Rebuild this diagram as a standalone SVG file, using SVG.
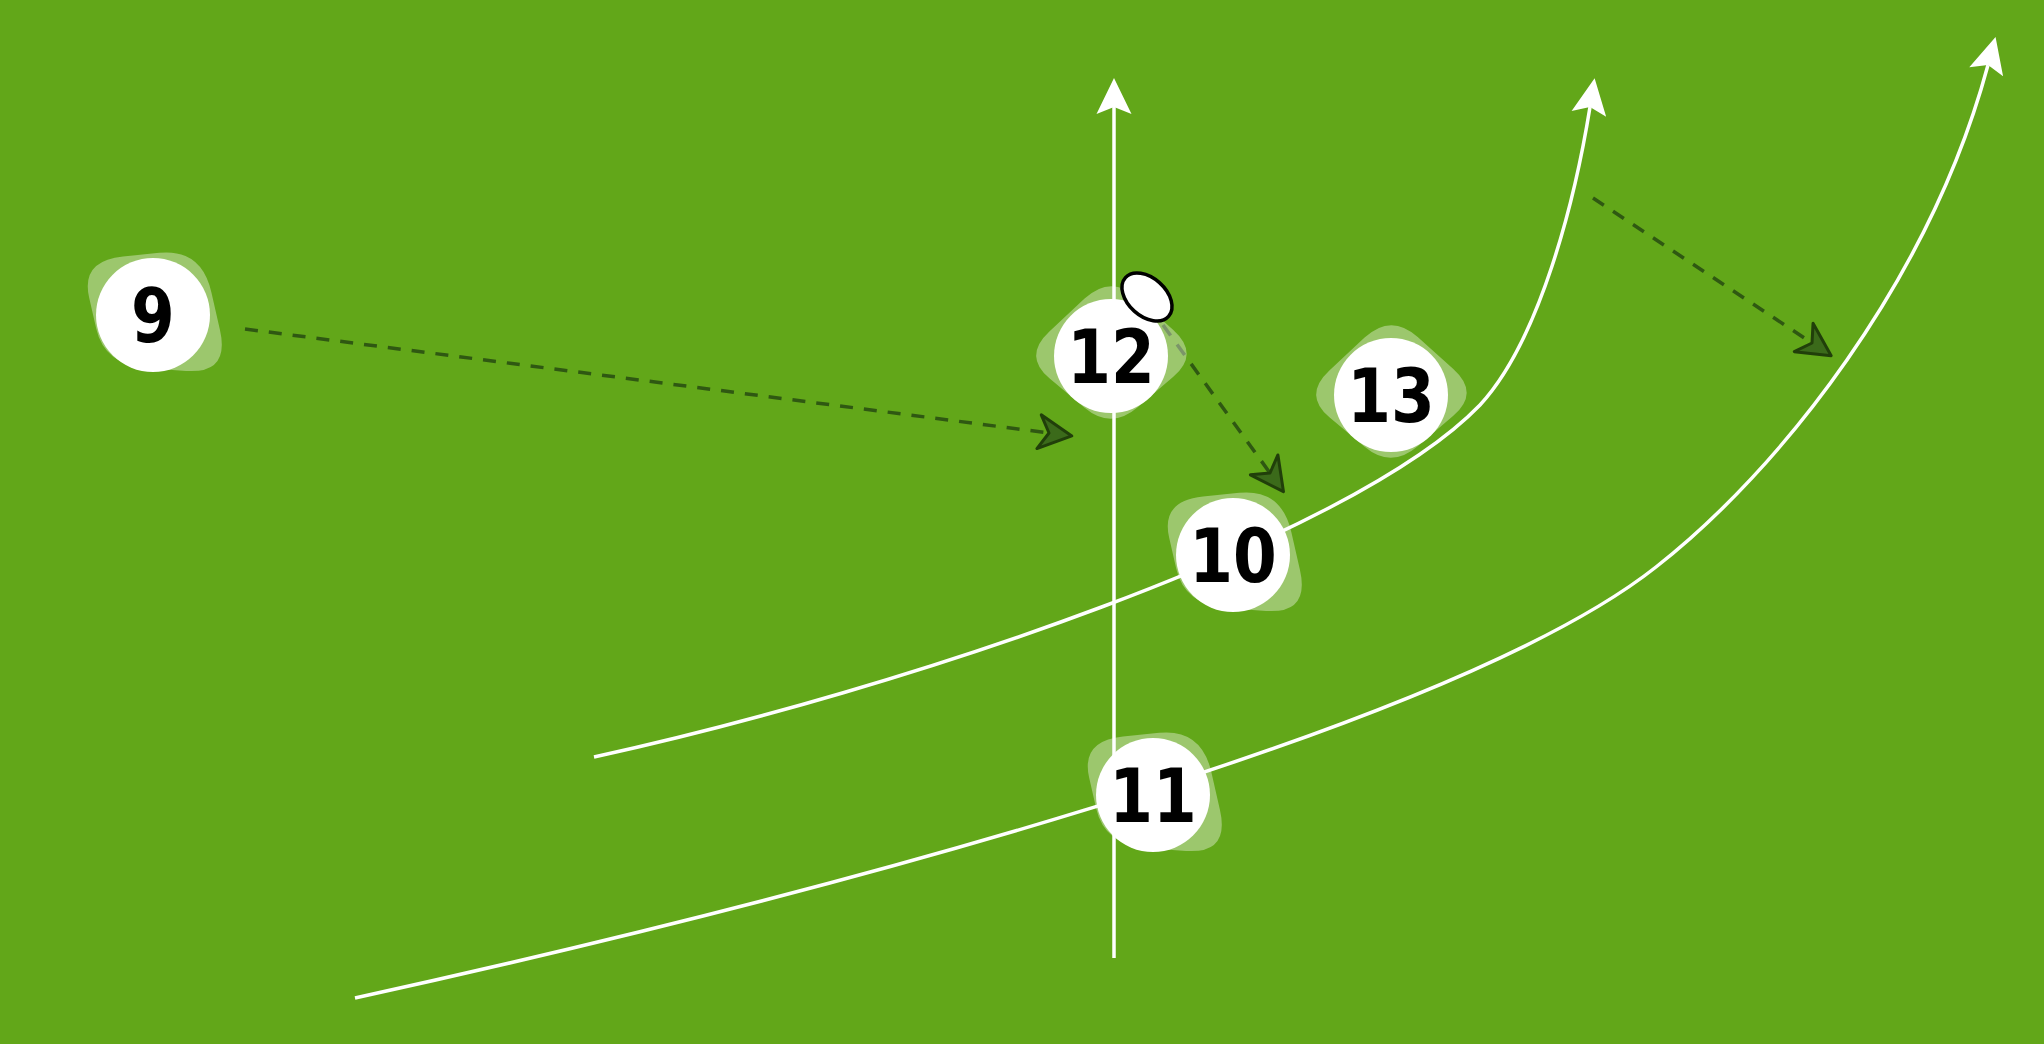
<svg xmlns="http://www.w3.org/2000/svg" width="2044" height="1044" viewBox="0 0 2044 1044">
<style>
.run{fill:none;stroke:#ffffff;stroke-width:3.5;stroke-linecap:butt}
.pass{fill:none;stroke:#2f5812;stroke-width:3.5;stroke-dasharray:13 11}
.blob{fill:#ffffff;fill-opacity:0.37}
.disc{fill:#ffffff}
.num{font-family:"DejaVu Sans",sans-serif;font-weight:bold;font-size:74px;fill:#000000;text-anchor:middle}
</style>
<defs>
<marker id="wa" markerUnits="userSpaceOnUse" orient="auto" refX="0" refY="0" markerWidth="60" markerHeight="60" overflow="visible">
<path d="M29 0 L-7 -17.5 L0 0 L-7 17.5 Z" fill="#ffffff"/>
</marker>
<marker id="da" markerUnits="userSpaceOnUse" orient="auto" refX="0" refY="0" markerWidth="60" markerHeight="60" overflow="visible">
<path d="M23 0 L-10 -17 L0 0 L-10 17 Z" fill="#3b6a1a" stroke="#213f0a" stroke-width="3" stroke-linejoin="round"/>
</marker>
<path id="quad" d="M-67.25 -18.5 Q-76 -57 -31.55 -61.55 L6.55 -65.45 Q51 -70 61.5 -23.8 L70.5 15.8 Q81 62 34.8 58.85 L-4.8 56.15 Q-51 53 -59.75 14.5 Z" transform="scale(0.95)"/>
<path id="dia" d="M-61.6 -24.6 L-26.4 -57.4 Q0 -82 26.7 -58 L62.3 -26 Q89 -2 62.3 20.8 L26.7 51.2 Q0 74 -26.4 51.8 L-61.6 22.2 Q-88 0 -61.6 -24.6 Z"/>
</defs>
<rect x="0" y="0" width="2044" height="1044" fill="#62a719"/>
<g id="connectors">
<path class="run" d="M1114 958 L1114 107" marker-end="url(#wa)"/>
<path class="run" d="M594 757 C900 690 1350 540 1480 405 C1540 340 1575 200 1590 107" marker-end="url(#wa)"/>
<path class="run" d="M355 998 C800 900 1450 730 1656 567 C1780 470 1930 280 1988 65" marker-end="url(#wa)"/>
<path class="pass" d="M245 329 L1049 433" marker-end="url(#da)"/>
<path class="pass" d="M1163 325 L1270 473" marker-end="url(#da)"/>
<path class="pass" d="M1593 198 L1812 343" marker-end="url(#da)"/>
</g>
<g id="p9" transform="translate(153,315)">
<use href="#quad" class="blob"/>
<circle class="disc" r="57"/>
<text class="num" x="0" y="27" transform="scale(0.85,1)">9</text>
</g>
<g id="p12" transform="translate(1111,356)">
<use href="#dia" class="blob"/>
<circle class="disc" r="57"/>
<text class="num" x="0" y="27" transform="scale(0.85,1)">12</text>
</g>
<g id="p13" transform="translate(1391,395)">
<use href="#dia" class="blob"/>
<circle class="disc" r="57"/>
<text class="num" x="0" y="27" transform="scale(0.85,1)">13</text>
</g>
<g id="p10" transform="translate(1233,555)">
<use href="#quad" class="blob"/>
<circle class="disc" r="57"/>
<text class="num" x="0" y="27" transform="scale(0.85,1)">10</text>
</g>
<g id="p11" transform="translate(1153,795)">
<use href="#quad" class="blob"/>
<circle class="disc" r="57"/>
<text class="num" x="0" y="27" transform="scale(0.85,1)">11</text>
</g>
<g id="ball">
<ellipse cx="1147" cy="297" rx="29" ry="19" transform="rotate(42 1147 297)" fill="#ffffff" stroke="#000000" stroke-width="3.5"/>
</g>
</svg>
